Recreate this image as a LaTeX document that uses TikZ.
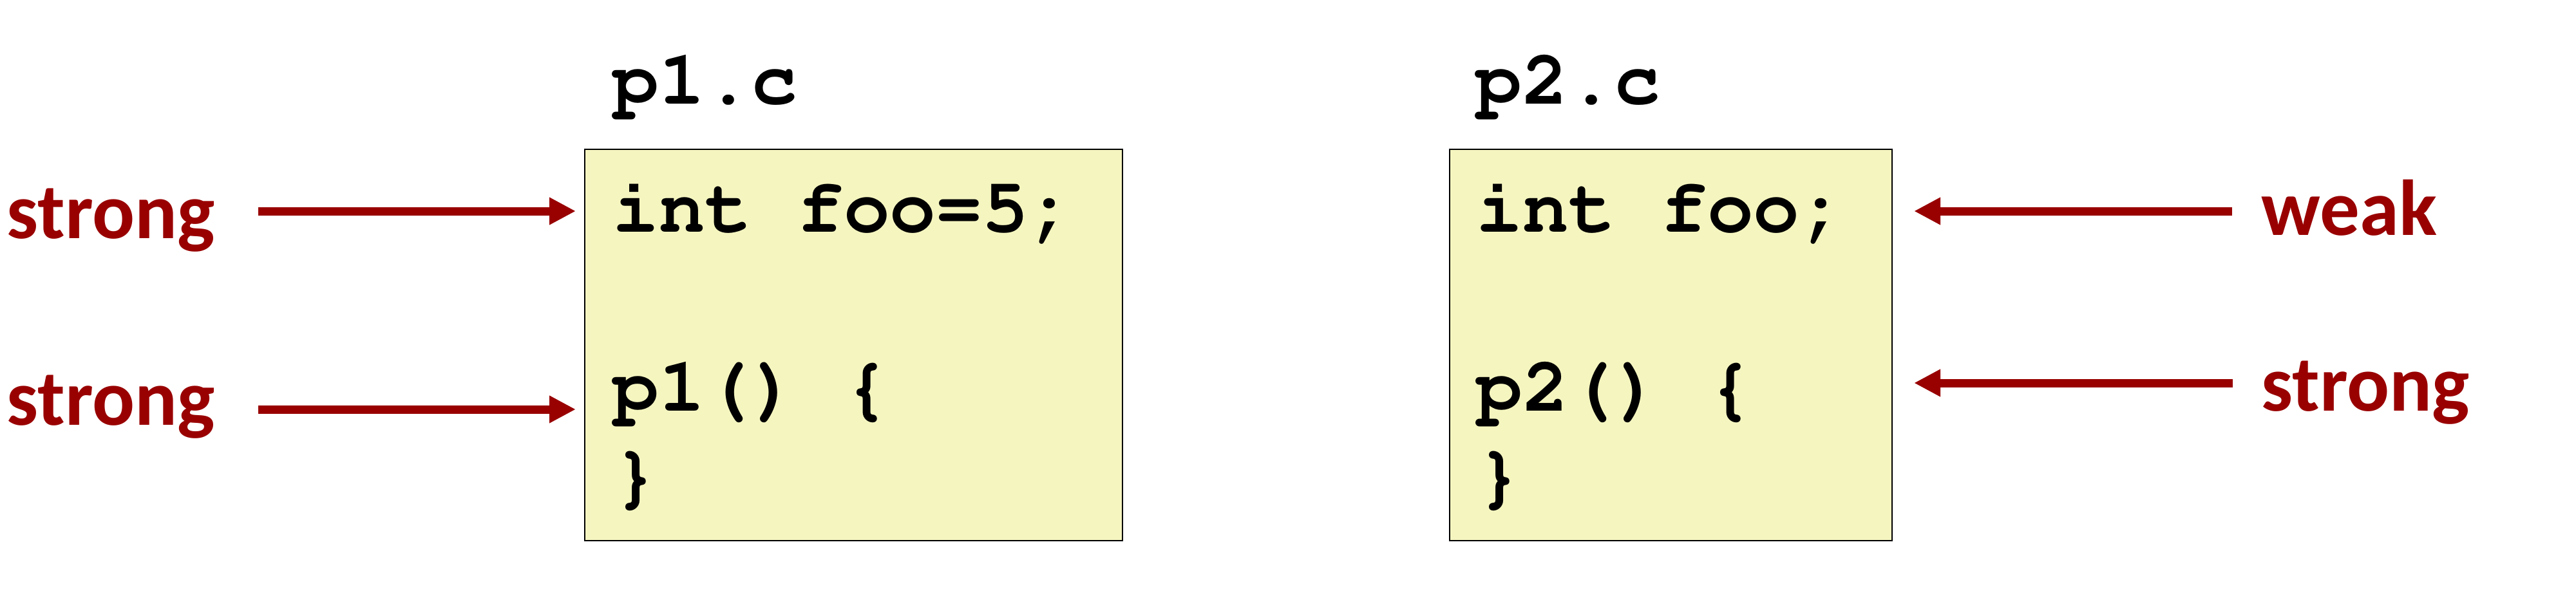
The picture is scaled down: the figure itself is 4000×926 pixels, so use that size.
\documentclass[tikz,border=0pt]{standalone}
\usepackage[T1,TU]{fontenc}
\usepackage{fontspec}
\usepackage{xcolor}
\usepackage{tikz}
\usetikzlibrary{arrows.meta,positioning}
\newfontfamily\lblfont{Carlito}
\newcommand\codefont{\fontencoding{T1}\fontfamily{pcr}\fontseries{b}\selectfont}
\definecolor{cVerm}{HTML}{990000}
\definecolor{cFundo}{HTML}{F5F5C0}

\begin{document}
\begin{tikzpicture}[
  x=0.1mm,y=0.1mm,
  srcbox/.style={draw=black,fill=cFundo,line width=0.6pt,anchor=north west,inner sep=0pt},
  code/.style={font=\codefont\fontsize{34}{40}\selectfont,anchor=base west,inner sep=0pt},
  tag/.style={font=\lblfont\bfseries\fontsize{35}{42}\selectfont,text=cVerm,anchor=base west,inner sep=0pt},
  ar/.style={-{Triangle[length=4.1mm,width=4mm]},draw=cVerm,line width=1.3mm}
]
\useasboundingbox (0,0) rectangle (4000,-926);

% ---- arquivos
\node[srcbox,minimum width=83.5mm,minimum height=60.8mm] (f1) at (907,-231) {};
\node[srcbox,minimum width=68.7mm,minimum height=60.8mm] (f2) at (2250,-231) {};

\node[code] (n1) at (951,-162) {p1.c};
\node[code] (n2) at (2291,-162) {p2.c};

\node[code] (a1) at (951,-360) {int foo=5;};
\node[code] (a2) at (951,-638) {p1() \{};
\node[code] (a3) at (951,-775) {\}};
\node[code] (b1) at (2292,-360) {int foo;};
\node[code] (b2) at (2292,-638) {p2() \{};
\node[code] (b3) at (2292,-775) {\}};

% ---- rotulos
\node[tag] (s1) at (10,-370)   {strong};
\node[tag] (s2) at (10,-660)   {strong};
\node[tag] (w3) at (3511,-366) {weak};
\node[tag] (s4) at (3511,-638) {strong};

% ---- setas
\coordinate (t1) at (401,-328);
\coordinate (t2) at (401,-636);
\coordinate (t3) at (3466,-328);
\coordinate (t4) at (3467,-595);
\draw[ar,shorten >=1.3mm] (t1) -- (t1 -| f1.west);
\draw[ar,shorten >=1.3mm] (t2) -- (t2 -| f1.west);
\draw[ar,shorten >=3.3mm] (t3) -- (t3 -| f2.east);
\draw[ar,shorten >=3.3mm] (t4) -- (t4 -| f2.east);
\end{tikzpicture}
\end{document}
